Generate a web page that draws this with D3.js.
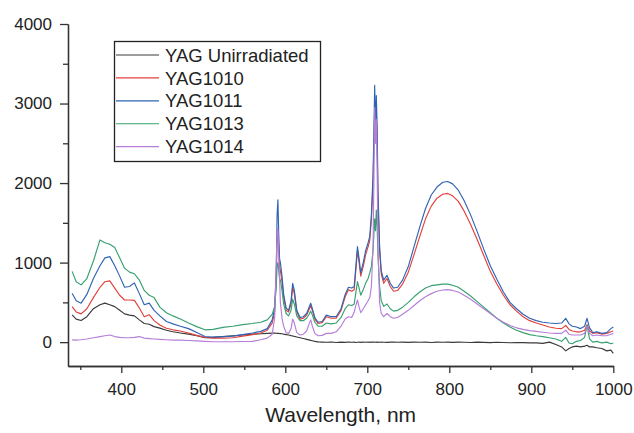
<!DOCTYPE html>
<html>
<head>
<meta charset="utf-8">
<script src="https://cdn.jsdelivr.net/npm/d3@7"></script>
<style>
  html, body { margin: 0; padding: 0; background: #fff; }
  svg { display: block; }
  text { font-family: "Liberation Sans", Arial, sans-serif; fill: #222; }
</style>
</head>
<body>
<svg id="chart" width="634" height="433"></svg>
<script>
// Emission spectra, wavelength grid (nm)
const wavelengths = [340,345,351,358,366,374,380,386,392,398,404,410,416,422,428,434,440,447,455,463,
  472,482,492,502,512,524,536,548,560,570,578,584,587,589,590,591,592,593,594,596,
  598,601,604,607,609,611,614,618,622,626,629,631,633,636,640,645,650,656,662,668,
  673,677,681,684,686,688,690,692,695,698,701,703,705,707,708,709,710,711,712,713,
  715,717,720,724,728,732,737,743,750,757,764,771,778,785,792,798,804,811,818,826,
  834,842,850,858,866,874,882,890,898,906,914,922,930,937,942,946,950,955,960,965,
  968,971,975,980,986,992,997,1000];

const yagUnirradiated = [343,290,272,320,420,470,490,470,447,400,355,340,330,280,235,225,195,176,150,130,
  115,100,80,55,60,70,80,90,100,105,110,113,113,112,110,110,110,108,108,105,
  100,95,90,82,78,72,65,55,45,35,28,22,18,10,3,0,-2,2,-4,0,
  -3,2,-2,0,-4,-1,2,-3,0,-2,1,-3,0,2,-1,0,-2,1,-3,0,
  -2,1,-1,-3,0,2,-2,0,-3,1,-2,0,-4,1,-2,0,-3,1,-2,-5,
  0,-3,-6,-2,-5,-8,-4,-7,-10,-10,-15,0,-30,-60,-110,-80,-60,-50,-60,-50,
  -40,-60,-60,-70,-80,-110,-100,-140];

const yag1010 = [447,380,355,420,560,690,760,770,680,590,530,530,525,430,320,345,270,215,175,155,
  140,115,85,60,50,50,55,75,95,115,150,240,380,800,1300,1420,1200,950,900,760,
  560,400,380,480,690,610,380,290,300,340,410,460,400,290,235,245,320,300,300,400,
  570,660,640,660,900,1150,1000,830,950,1100,1200,1280,1550,2000,2450,2950,2550,2900,2500,1800,
  1150,860,740,800,700,640,650,730,880,1100,1330,1550,1710,1810,1860,1870,1840,1770,1650,1480,
  1290,1090,890,730,590,470,390,320,270,240,215,190,175,170,210,160,140,130,130,150,
  220,140,110,120,100,110,130,140];

const yag1011 = [615,520,490,600,800,960,1060,1075,960,830,690,700,745,610,470,490,400,330,260,230,
  200,170,120,70,65,70,75,95,115,135,170,280,420,900,1600,1790,1350,1050,1000,830,
  600,430,400,520,740,650,400,310,320,360,440,490,420,310,250,260,340,320,320,420,
  600,690,680,700,950,1200,1050,870,1000,1150,1250,1330,1600,2100,2600,3230,2700,3100,2700,1900,
  1200,900,780,840,740,680,690,780,950,1200,1450,1680,1850,1950,2010,2020,1990,1910,1780,1600,
  1390,1170,960,790,630,500,420,350,300,270,250,240,235,240,300,230,200,190,170,200,
  300,180,120,130,110,120,170,190];

const yag1013 = [890,760,720,800,1020,1285,1250,1230,1190,1060,930,880,860,780,650,590,560,440,370,330,
  290,240,195,155,160,185,200,220,235,250,280,350,450,700,950,1000,900,800,780,650,
  480,360,330,400,540,480,330,270,270,300,350,390,340,250,200,200,240,230,240,310,
  420,470,460,480,620,760,680,590,660,740,800,870,950,1150,1350,1550,1400,1660,1450,1100,
  700,520,450,480,420,390,400,440,500,570,630,680,710,720,730,730,715,690,640,580,
  510,440,370,300,240,190,150,120,95,80,70,55,40,10,60,-10,-20,10,20,60,
  210,40,0,10,-10,0,-20,-10];

const yag1014 = [29,25,30,40,55,70,80,90,70,60,55,55,60,70,50,45,40,35,30,25,
  25,20,15,10,5,5,5,8,10,30,50,100,300,1000,1380,1420,1100,800,500,300,
  200,120,110,170,290,240,120,90,100,140,230,280,200,110,80,85,110,110,130,200,
  290,320,310,380,460,530,440,370,420,470,520,560,700,1200,2000,2950,2500,2800,2200,1200,
  500,360,320,360,320,300,310,350,400,460,520,570,610,640,655,660,650,630,590,540,
  480,420,360,300,250,210,180,160,145,135,125,115,110,110,150,100,90,90,90,110,
  200,110,80,90,80,80,100,110];

const seriesNames = ["YAG Unirradiated", "YAG1010", "YAG1011", "YAG1013", "YAG1014"];
const seriesValues = [yagUnirradiated, yag1010, yag1011, yag1013, yag1014];
const seriesColors = ["#3a3a3a", "#e2403b", "#2f64b4", "#36a070", "#b57fd8"];

const yMajorTicks = [0, 1000, 2000, 3000, 4000];
const yMinorTicks = [500, 1500, 2500, 3500];
const xMajorTicks = [400, 500, 600, 700, 800, 900, 1000];
const xMinorTicks = [350, 450, 550, 650, 750, 850, 950];

const svg = d3.select("#chart");
svg.append("rect").attr("width", 634).attr("height", 433).attr("fill", "#fff");

const x = d3.scaleLinear().domain([335, 1000]).range([68, 613.3]);
const y = d3.scaleLinear().domain([-300, 4000]).range([366, 24]);

// spectra
const line = d3.line()
  .x(d => x(d[0]))
  .y(d => y(d[1]));

seriesValues.forEach((vals, i) => {
  const pts = wavelengths.map((w, k) => [w, vals[k]]);
  svg.append("path")
    .datum(pts)
    .attr("fill", "none")
    .attr("stroke", seriesColors[i])
    .attr("stroke-width", 1.15)
    .attr("stroke-linejoin", "round")
    .attr("d", line);
});

// axes
const axisColor = "#333";
function styleAxis(g) {
  g.selectAll(".domain").attr("stroke", axisColor).attr("stroke-width", 1.3);
  g.selectAll(".tick line").attr("stroke", axisColor).attr("stroke-width", 1.3);
  g.selectAll("text").attr("fill", "#222").style("font-size", "17px")
    .style("font-family", '"Liberation Sans", Arial, sans-serif');
}

svg.append("g")
  .attr("transform", `translate(${x.range()[0]},0)`)
  .call(d3.axisLeft(y).tickValues(yMinorTicks).tickSize(5).tickSizeOuter(0).tickFormat(""))
  .call(styleAxis);
svg.append("g")
  .attr("transform", `translate(${x.range()[0]},0)`)
  .call(d3.axisLeft(y).tickValues(yMajorTicks).tickSize(8).tickSizeOuter(0).tickPadding(8).tickFormat(d3.format("d")))
  .call(styleAxis);

svg.append("g")
  .attr("transform", `translate(0,${y.range()[0]})`)
  .call(d3.axisBottom(x).tickValues(xMinorTicks).tickSize(4).tickSizeOuter(0).tickFormat(""))
  .call(styleAxis);
svg.append("g")
  .attr("transform", `translate(0,${y.range()[0]})`)
  .call(d3.axisBottom(x).tickValues(xMajorTicks).tickSize(7).tickSizeOuter(0).tickPadding(10).tickFormat(d3.format("d")))
  .call(styleAxis);

svg.append("text")
  .attr("x", (x.range()[0] + x.range()[1]) / 2)
  .attr("y", 422)
  .attr("text-anchor", "middle")
  .style("font-size", "21px")
  .text("Wavelength, nm");

// legend
const legend = svg.append("g");
legend.append("rect")
  .attr("x", 114.5).attr("y", 41.5)
  .attr("width", 206).attr("height", 120)
  .attr("fill", "#fff").attr("stroke", "#222").attr("stroke-width", 1.3);
seriesNames.forEach((name, i) => {
  const cy = 55 + i * 22.9;
  legend.append("line")
    .attr("x1", 116).attr("x2", 159)
    .attr("y1", cy).attr("y2", cy)
    .attr("stroke", seriesColors[i]).attr("stroke-width", 1.15);
  legend.append("text")
    .attr("x", 165).attr("y", cy)
    .attr("dy", "0.36em")
    .style("font-size", "18.5px")
    .text(name);
});
</script>
</body>
</html>
